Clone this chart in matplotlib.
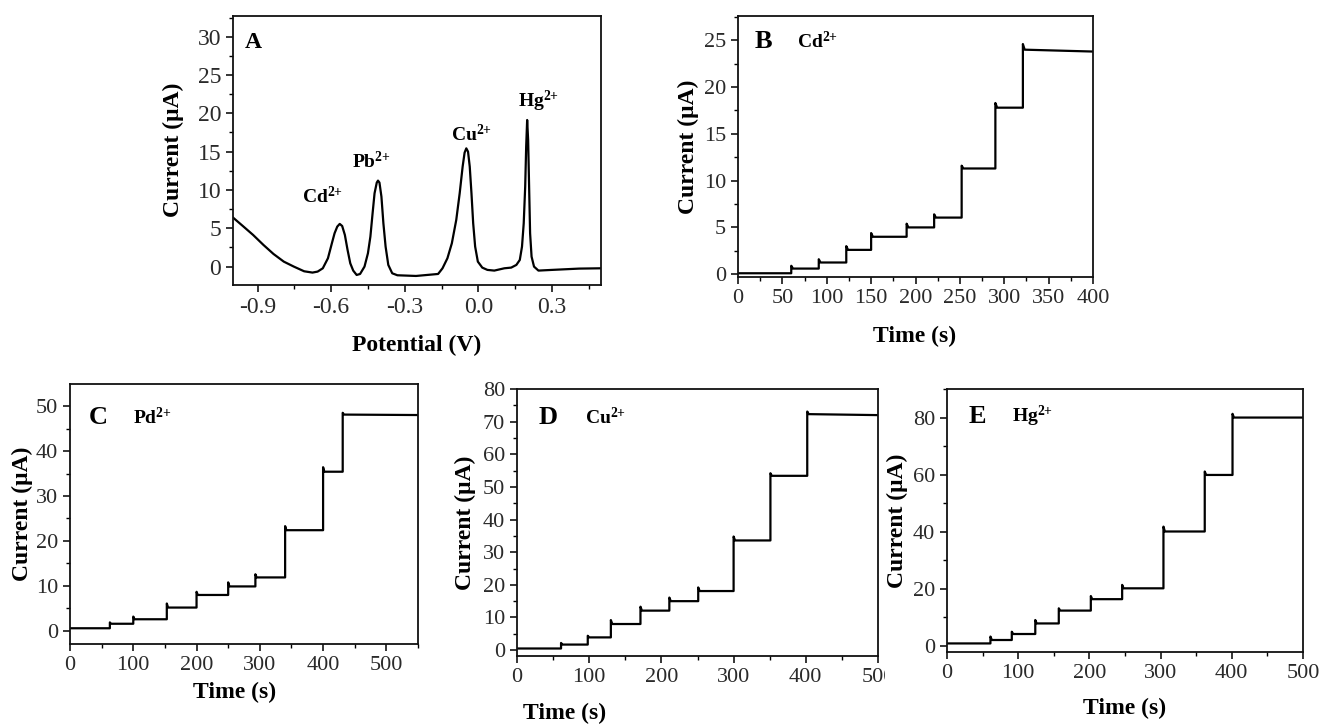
import numpy as np
import matplotlib
matplotlib.use('Agg')
import matplotlib.pyplot as plt
from matplotlib.ticker import MultipleLocator
from matplotlib.transforms import Bbox

plt.rcParams.update({
    'font.family': ['Liberation Serif', 'DejaVu Serif'],
    'mathtext.fontset': 'custom',
    'mathtext.rm': 'Liberation Serif',
    'mathtext.bf': 'Liberation Serif:bold',
    'axes.linewidth': 1.3,
    'xtick.direction': 'out',
    'ytick.direction': 'out',
    'xtick.major.size': 5,
    'ytick.major.size': 5,
    'xtick.minor.size': 3,
    'ytick.minor.size': 3,
    'xtick.major.width': 1.1,
    'ytick.major.width': 1.1,
    'xtick.minor.width': 1.0,
    'ytick.minor.width': 1.0,
    'xtick.labelsize': 16,
    'ytick.labelsize': 16,
    'xtick.labelcolor': '#2a2a2a',
    'ytick.labelcolor': '#2a2a2a',
})

# ---- Panel A: stripping voltammogram ----
pot_v = [-1.000, -0.960, -0.918, -0.876, -0.835, -0.793, -0.752, -0.710, -0.676,
         -0.655, -0.634, -0.613, -0.597, -0.586, -0.575, -0.565, -0.555, -0.544,
         -0.533, -0.522, -0.510, -0.496, -0.482, -0.464, -0.450, -0.440, -0.431,
         -0.423, -0.414, -0.409, -0.403, -0.395, -0.387, -0.378, -0.367, -0.351,
         -0.330, -0.254, -0.164, -0.146, -0.126, -0.108, -0.090, -0.076, -0.064,
         -0.056, -0.049, -0.042, -0.035, -0.028, -0.021, -0.013, -0.002, 0.016,
         0.037, 0.065, 0.106, 0.134, 0.155, 0.169, 0.178, 0.185, 0.191,
         0.195, 0.199, 0.203, 0.207, 0.211, 0.217, 0.227, 0.245, 0.300,
         0.411, 0.500]
cur_a = [6.40, 5.30, 4.13, 2.83, 1.65, 0.65, 0.00, -0.61, -0.78,
         -0.65, -0.22, 1.09, 3.04, 4.35, 5.22, 5.57, 5.30, 4.13,
         2.17, 0.43, -0.52, -1.09, -0.96, 0.00, 1.74, 3.91, 6.96,
         9.57, 10.96, 11.22, 10.96, 9.13, 5.65, 2.61, 0.22, -0.87,
         -1.13, -1.22, -0.96, -0.22, 1.09, 3.04, 6.09, 9.57, 13.04,
         14.87, 15.43, 15.00, 13.04, 9.57, 5.65, 2.61, 0.65, -0.13,
         -0.43, -0.52, -0.22, -0.13, 0.22, 0.87, 2.61, 5.65, 10.43,
         15.65, 19.13, 16.52, 10.43, 4.35, 1.30, 0.00, -0.52, -0.43,
         -0.26, -0.22]
peak_names = ['Cd', 'Pb', 'Cu', 'Hg']
peak_label_x = [-0.634, -0.434, -0.029, 0.245]
peak_label_y = [9.1, 13.7, 17.2, 21.5]

# ---- Amperometric steps: start level, step times, plateau levels, spike tops ----
b_start, b_end = 0.1, 23.8
b_times = [60, 91, 122, 150, 190, 221, 252, 290, 321]
b_levels = [0.6, 1.25, 2.6, 4.0, 5.0, 6.05, 11.3, 17.8, 24.0]
b_spikes = [0.9, 1.6, 3.0, 4.4, 5.4, 6.4, 11.6, 18.3, 24.6]

c_start, c_end = 0.6, 48.0
c_times = [63, 100, 153, 200, 250, 293, 340, 400, 431]
c_levels = [1.6, 2.6, 5.2, 8.0, 9.9, 11.9, 22.4, 35.4, 48.1]
c_spikes = [1.9, 3.2, 6.1, 8.7, 10.8, 12.6, 23.3, 36.4, 48.5]

d_start, d_end = 0.5, 72.0
d_times = [61, 98, 130, 171, 211, 251, 300, 351, 402]
d_levels = [1.7, 3.9, 8.0, 12.1, 15.0, 18.1, 33.6, 53.4, 72.3]
d_spikes = [2.2, 4.4, 9.2, 13.3, 16.1, 19.2, 34.8, 54.2, 73.1]

e_start, e_end = 0.9, 80.0
e_times = [61, 91, 124, 157, 202, 246, 304, 362, 401]
e_levels = [2.1, 4.2, 7.9, 12.4, 16.4, 20.2, 40.1, 59.9, 80.0]
e_spikes = [3.3, 5.0, 9.1, 13.2, 17.5, 21.4, 41.8, 61.1, 81.3]


def step_trace(start, times, levels, spikes, end, t_end):
    xs, ys = [0], [start]
    prev = start
    for t, lv, sp in zip(times, levels, spikes):
        xs += [t, t, t + 2]
        ys += [prev, sp, lv]
        prev = lv
    xs.append(t_end)
    ys.append(end)
    return xs, ys


W, H = 1321, 725
fig = plt.figure(figsize=(W / 100, H / 100), dpi=100)


def px_axes(left, top, right, bottom):
    return fig.add_axes([left / W, 1 - bottom / H, (right - left) / W, (bottom - top) / H])


def style(ax):
    ax.tick_params(which='both', top=False, right=False)
    for s in ax.spines.values():
        s.set_color('#111111')


def ion(name):
    return r'$\mathbf{%s^{2{+}}}$' % name


# Panel A
axA = px_axes(233, 16, 601, 285)
axA.plot(pot_v, cur_a, color='black', lw=1.6, solid_joinstyle='round')
axA.set_xlim(-1.0, 0.5)
axA.set_ylim(-2.4, 32.7)
axA.xaxis.set_major_locator(MultipleLocator(0.3))
axA.xaxis.set_minor_locator(MultipleLocator(0.15))
axA.yaxis.set_major_locator(MultipleLocator(5))
axA.yaxis.set_minor_locator(MultipleLocator(2.5))
axA.xaxis.set_major_formatter(plt.FuncFormatter(lambda v, p: '%.1f' % v))
axA.tick_params(labelsize=17)
style(axA)
axA.text(0.054, 0.90, 'A', transform=axA.transAxes, fontsize=17, fontweight='bold',
         ha='center', va='center')
for nm, lx, ly in zip(peak_names, peak_label_x, peak_label_y):
    axA.text(lx, ly, ion(nm), fontsize=14, ha='center', va='center')
fig.text(417 / W, 1 - 345 / H, 'Potential (V)', fontsize=17, fontweight='bold',
         ha='center', va='center')
fig.text(173 / W, 1 - 150 / H, 'Current (μA)', fontsize=17, fontweight='bold',
         ha='center', va='center', rotation=90)

# Step panels
panels = [
    # box, data, xlim, ylim, xmaj, xmin, ymaj, ymin, letter, ion, letter pos, xlabel pos, ylabel x
    ((738, 16, 1093, 277), (b_start, b_times, b_levels, b_spikes, b_end, 400),
     (0, 400), (-0.3, 27.6), 50, 25, 5, 2.5, 'B', 'Cd', (0.073, 0.904, 0.223), (915, 336), 688),
    ((70, 384, 418, 644), (c_start, c_times, c_levels, c_spikes, c_end, 550),
     (0, 550), (-2.9, 54.9), 100, 50, 10, 5, 'C', 'Pd', (0.08, 0.873, 0.236), (235, 692), 22),
    ((517, 389, 878, 656), (d_start, d_times, d_levels, d_spikes, d_end, 500),
     (0, 500), (-1.8, 80), 100, 50, 10, 5, 'D', 'Cu', (0.086, 0.895, 0.244), (565, 713), 465),
    ((947, 389, 1303, 652), (e_start, e_times, e_levels, e_spikes, e_end, 500),
     (0, 500), (-2.1, 90), 100, 50, 20, 10, 'E', 'Hg', (0.084, 0.894, 0.239), (1125, 708), 897),
]

axes = []
for (box, data, xl, yl, xM, xm, yM, ym, letter, nm, lpos, xlab, ylab_x) in panels:
    ax = px_axes(*box)
    xs, ys = step_trace(*data)
    ax.plot(xs, ys, color='black', lw=1.6)
    ax.set_xlim(*xl)
    ax.set_ylim(*yl)
    ax.xaxis.set_major_locator(MultipleLocator(xM))
    ax.xaxis.set_minor_locator(MultipleLocator(xm))
    ax.yaxis.set_major_locator(MultipleLocator(yM))
    ax.yaxis.set_minor_locator(MultipleLocator(ym))
    style(ax)
    ax.text(lpos[0], lpos[1], letter, transform=ax.transAxes, fontsize=19,
            fontweight='bold', ha='center', va='center')
    ax.text(lpos[2], lpos[1], ion(nm), transform=ax.transAxes, fontsize=14,
            ha='center', va='center')
    fig.text(xlab[0] / W, 1 - xlab[1] / H, 'Time (s)', fontsize=17, fontweight='bold',
             ha='center', va='center')
    yc = (box[1] + box[3]) / 2
    fig.text(ylab_x / W, 1 - yc / H, 'Current (μA)', fontsize=17, fontweight='bold',
             ha='center', va='center', rotation=90)
    axes.append(ax)

# panel E's image covers the end of panel D's "500" label
fig.canvas.draw()
axD = axes[2]
for lbl in axD.get_xticklabels():
    if lbl.get_text() == '500':
        lbl.set_clip_box(Bbox([[0, 0], [885, H]]))
        lbl.set_clip_on(True)

fig.savefig('out.png', dpi=100)
